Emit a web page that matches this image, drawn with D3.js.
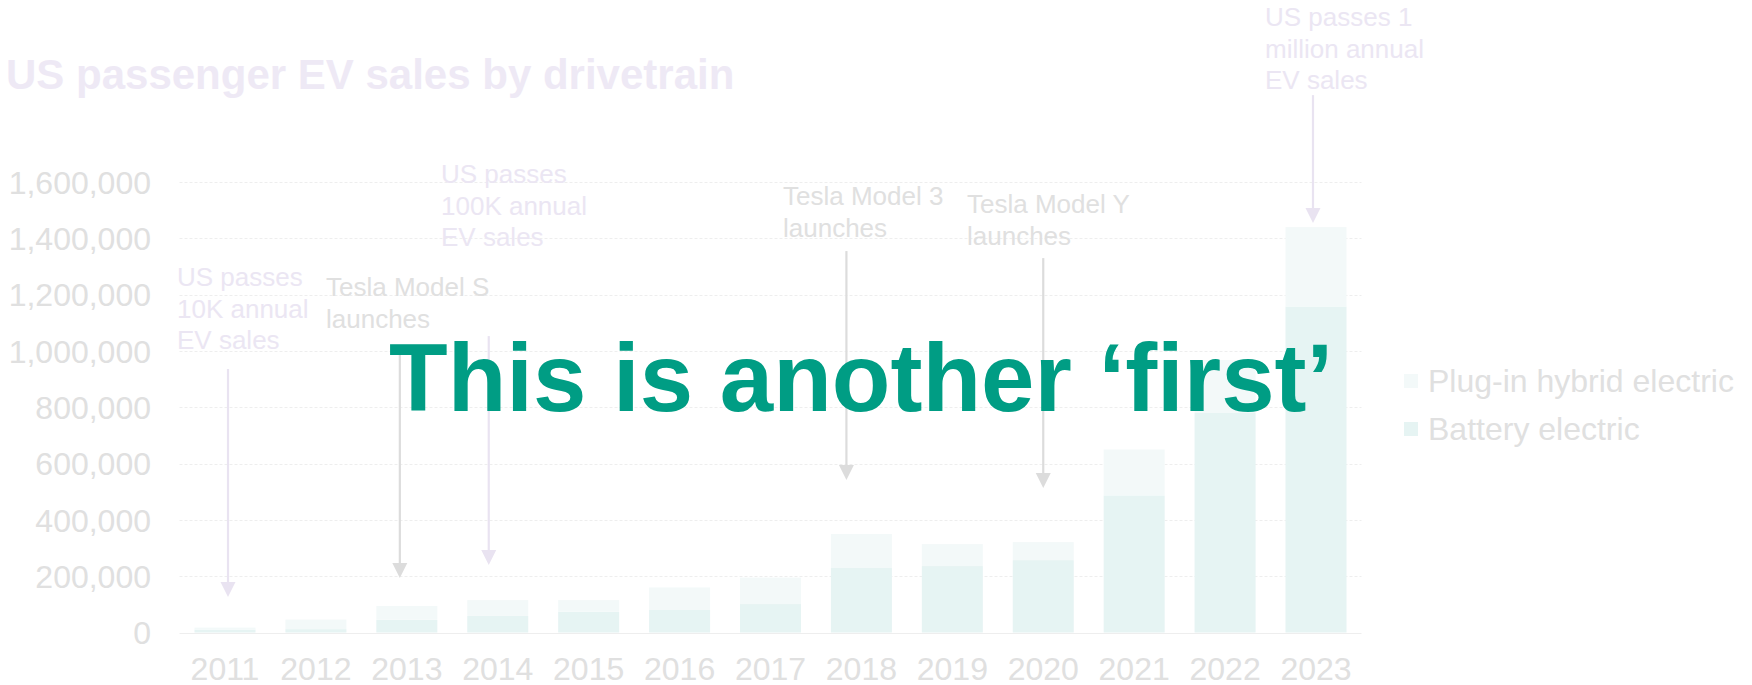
<!DOCTYPE html>
<html>
<head>
<meta charset="utf-8">
<script src="https://cdnjs.cloudflare.com/ajax/libs/d3/7.8.5/d3.min.js"></script>
<style>
  html, body { margin: 0; padding: 0; background: #fff; }
  svg { display: block; font-family: "Liberation Sans", Arial, sans-serif; }
</style>
</head>
<body>
<svg width="1752" height="685"></svg>
<script>
// data
let years = ["2011", "2012", "2013", "2014", "2015", "2016", "2017", "2018", "2019", "2020", "2021", "2022", "2023"];
let battery = [9700, 12000, 45000, 59000, 74000, 80000, 101000, 229000, 236000, 257000, 487000, 780000, 1158000];
let plugin = [7700, 34000, 49000, 56000, 41000, 80000, 94000, 121000, 78000, 64000, 163000, 188000, 282000];
let yTicks = [0, 200000, 400000, 600000, 800000, 1000000, 1200000, 1400000, 1600000];
let seriesNames = ["Plug-in hybrid electric", "Battery electric"];

// annotations: year, arrow from / to (in sales units)
let notes = [
    { lines: ["US passes", "10K annual", "EV sales"], year: "2011", from: 936000, to: 126000, kind: "milestone" },
    { lines: ["Tesla Model S", "launches"], year: "2013", from: 1021000, to: 194000, kind: "tesla" },
    { lines: ["US passes", "100K annual", "EV sales"], year: "2014", from: 1053000, to: 240000, kind: "milestone" },
    { lines: ["Tesla Model 3", "launches"], year: "2018", from: 1355000, to: 542000, kind: "tesla" },
    { lines: ["Tesla Model Y", "launches"], year: "2020", from: 1330000, to: 513000, kind: "tesla" },
    { lines: ["US passes 1", "million annual", "EV sales"], year: "2023", from: 1909000, to: 1455000, kind: "milestone" }
];
// text placement of each note (x, first baseline) and arrow nudge
let noteLayout = [
    { x: 177, y: 286, dx: 3 },
    { x: 326, y: 296, dx: -7 },
    { x: 441, y: 183, dx: -9 },
    { x: 783, y: 205, dx: -15 },
    { x: 967, y: 213, dx: 0 },
    { x: 1265, y: 26, dx: -3 }
];

let colors = {
    battery: "#e6f4f3",
    plugin: "#f3f9f9",
    axisText: "#e0e0e0",
    grid: "#eeeeee",
    milestone: "#ebe6f3",
    milestoneArrow: "#e9e3f1",
    tesla: "#e0e0e0",
    teslaArrow: "#dcdcdc",
    title: "#eee9f5",
    headline: "#009d84"
};

let svg = d3.select("svg"),
    lineHeight = 31.5;

let x = d3.scaleBand()
    .domain(years)
    .range([179.5, 1361.5])
    .paddingInner(0.329)
    .paddingOuter(0.165);

let y = d3.scaleLinear()
    .domain([0, 1600000])
    .range([632.5, 182.1]);

// title
svg.append("text")
    .attr("x", 6)
    .attr("y", 89)
    .attr("font-size", 42)
    .attr("font-weight", "bold")
    .attr("fill", colors.title)
    .text("US passenger EV sales by drivetrain");

// gridlines
svg.append("g")
    .selectAll("line")
    .data(yTicks)
    .join("line")
    .attr("x1", 179.5)
    .attr("x2", 1361.5)
    .attr("y1", d => Math.round(y(d)) + 0.5)
    .attr("y2", d => Math.round(y(d)) + 0.5)
    .attr("stroke", colors.grid)
    .attr("stroke-width", 1)
    .attr("stroke-dasharray", d => d === 0 ? null : "3,2");

// y axis
let yAxis = d3.axisLeft(y)
    .tickValues(yTicks)
    .tickFormat(d3.format(","))
    .tickSize(0)
    .tickPadding(0);

let gy = svg.append("g")
    .attr("transform", "translate(151,0)")
    .call(yAxis);
gy.select(".domain").remove();
gy.selectAll("text")
    .attr("font-size", 32)
    .attr("font-family", "Liberation Sans, Arial, sans-serif")
    .attr("fill", colors.axisText)
    .attr("dy", "0.35em");

// x axis
let xAxis = d3.axisBottom(x)
    .tickSize(0)
    .tickPadding(0);

let gx = svg.append("g")
    .attr("transform", "translate(0,680)")
    .call(xAxis);
gx.select(".domain").remove();
gx.selectAll("text")
    .attr("font-size", 32)
    .attr("font-family", "Liberation Sans, Arial, sans-serif")
    .attr("fill", colors.axisText)
    .attr("dy", 0);

// stacked bars
let rows = years.map((yr, i) => ({ year: yr, battery: battery[i], plugin: plugin[i] }));
let stack = d3.stack().keys(["battery", "plugin"])(rows);

svg.append("g")
    .selectAll("g")
    .data(stack)
    .join("g")
    .attr("fill", d => colors[d.key])
    .selectAll("rect")
    .data(d => d)
    .join("rect")
    .attr("x", d => x(d.data.year))
    .attr("width", x.bandwidth())
    .attr("y", d => y(d[1]))
    .attr("height", d => y(d[0]) - y(d[1]));

// legend
let legend = svg.append("g")
    .selectAll("g")
    .data(seriesNames)
    .join("g")
    .attr("transform", (d, i) => "translate(1404," + (381 + i * 48) + ")");

legend.append("rect")
    .attr("x", 0)
    .attr("y", -7)
    .attr("width", 14)
    .attr("height", 14)
    .attr("fill", (d, i) => i === 0 ? colors.plugin : colors.battery);

legend.append("text")
    .attr("x", 24)
    .attr("dy", "0.35em")
    .attr("font-size", 32)
    .attr("fill", colors.axisText)
    .text(d => d);

// annotations
let ann = svg.append("g")
    .selectAll("g")
    .data(notes)
    .join("g");

ann.each(function (d, i) {
    let g = d3.select(this),
        lay = noteLayout[i],
        isTesla = d.kind === "tesla",
        textColor = isTesla ? colors.tesla : colors.milestone,
        arrowColor = isTesla ? colors.teslaArrow : colors.milestoneArrow,
        ax = x(d.year) + x.bandwidth() / 2 + lay.dx,
        y1 = y(d.from),
        tip = y(d.to),
        head = 15;

    g.append("text")
        .attr("font-size", 26)
        .attr("fill", textColor)
        .selectAll("tspan")
        .data(d.lines)
        .join("tspan")
        .attr("x", lay.x)
        .attr("y", (l, j) => lay.y + j * lineHeight)
        .text(l => l);

    g.append("line")
        .attr("x1", ax)
        .attr("x2", ax)
        .attr("y1", y1)
        .attr("y2", tip - head + 1)
        .attr("stroke", arrowColor)
        .attr("stroke-width", 2.2);

    g.append("path")
        .attr("d", "M" + (ax - 7.5) + "," + (tip - head) + "L" + (ax + 7.5) + "," + (tip - head) + "L" + ax + "," + tip + "Z")
        .attr("fill", arrowColor);
});

// headline over the chart
svg.append("text")
    .attr("x", 389)
    .attr("y", 411)
    .attr("font-size", 96)
    .attr("font-weight", "bold")
    .attr("fill", colors.headline)
    .text("This is another \u2018first\u2019");
</script>
</body>
</html>
